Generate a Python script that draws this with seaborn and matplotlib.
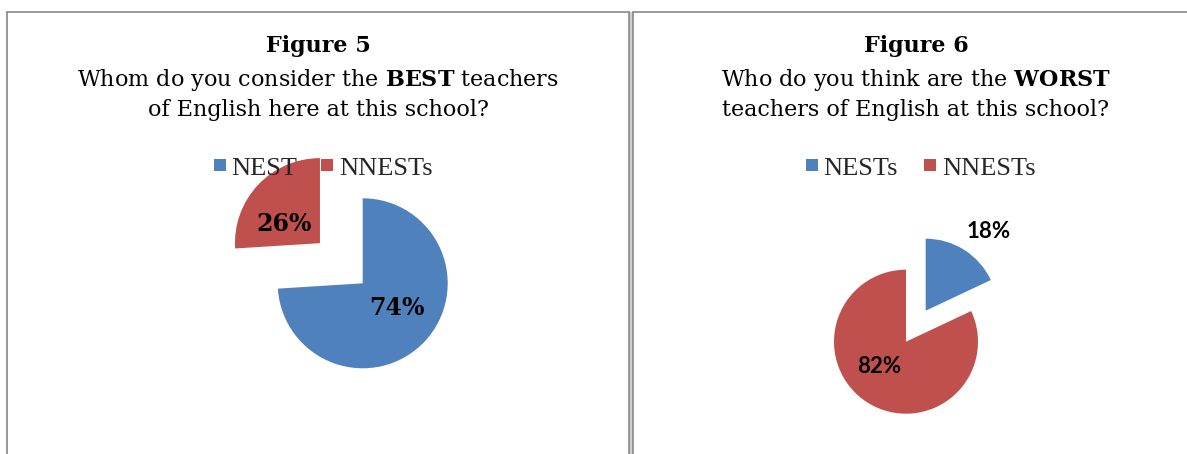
import matplotlib
matplotlib.use("Agg")
import matplotlib.pyplot as plt
from matplotlib.lines import Line2D
from matplotlib.patches import Rectangle
import seaborn as sns

# Survey results (percent of respondents)
best_labels = ["NEST", "NNESTs"]
best_values = [74, 26]
worst_labels = ["NESTs", "NNESTs"]
worst_values = [18, 82]

sns.set_theme(style="white")
plt.rcParams["font.family"] = ["DejaVu Serif"]
plt.rcParams["mathtext.fontset"] = "custom"
plt.rcParams["mathtext.rm"] = "DejaVu Serif"
plt.rcParams["mathtext.bf"] = "DejaVu Serif:bold"

colors = sns.color_palette(["#4F81BD", "#C0504D"])

W, H = 1187, 454
fig = plt.figure(figsize=(W / 100, H / 100), dpi=100)
fig.patch.set_facecolor("white")


def fx(x):
    return x / W


def fy(y):
    return 1 - y / H


def pie_axes(cx, cy, r, half=220):
    ax = fig.add_axes([fx(cx - half), fy(cy + half), 2 * half / W, 2 * half / H])
    return ax, half / r


def draw_pie(ax, lim, values, explode, label_pos, label_font):
    wedges, _ = ax.pie(values, colors=colors, startangle=90, counterclock=False,
                       explode=explode, wedgeprops=dict(linewidth=0))
    ax.set_xlim(-lim, lim)
    ax.set_ylim(-lim, lim)
    ax.axis("off")
    for v, (x, y) in zip(values, label_pos):
        ax.text(x, y, f"{v}%", ha="center", va="center", **label_font)
    return wedges


# Left chart: best teachers
ax1, lim1 = pie_axes(362.7, 283.3, 85)
draw_pie(ax1, lim1, best_values, [0, 0.69],
         [(0.40, -0.29), (-0.93, 0.70)],
         dict(fontsize=17, fontweight="bold", family="DejaVu Serif", color="black"))

# Right chart: worst teachers
ax2, lim2 = pie_axes(906, 341.7, 72)
draw_pie(ax2, lim2, worst_values, [0.51, 0],
         [(1.15, 1.53), (-0.37, -0.34)],
         dict(fontsize=16, fontweight="bold", family="Lato", color="black"))

# Titles
title_kw = dict(ha="center", va="baseline", fontsize=16, color="black")
fig.text(fx(318), fy(52), "Figure 5", fontweight="bold", **title_kw)
fig.text(fx(318), fy(86), r"Whom do you consider the $\mathbf{BEST}$ teachers", **title_kw)
fig.text(fx(318), fy(116), "of English here at this school?", **title_kw)
fig.text(fx(916), fy(52), "Figure 6", fontweight="bold", **title_kw)
fig.text(fx(916), fy(86), r"Who do you think are the $\mathbf{WORST}$", **title_kw)
fig.text(fx(916), fy(116), "teachers of English at this school?", **title_kw)


def legend(labels, x, y, colspace):
    handles = [Line2D([], [], marker="s", linestyle="none", markersize=9,
                      markerfacecolor=c, markeredgewidth=0) for c in colors]
    fig.legend(handles, labels, loc="center", bbox_to_anchor=(fx(x), fy(y)),
               ncol=2, frameon=False, handlelength=0.48,
               handletextpad=0.2, columnspacing=colspace, borderpad=0,
               prop=dict(family="Liberation Serif", size=19))


legend(best_labels, 323, 168, 0.9)
legend(worst_labels, 920.5, 168, 1.0)

# Panel borders
gray = "#878787"
border = dict(color=gray, linewidth=1.2, transform=fig.transFigure)
fig.add_artist(Line2D([fx(7), fx(7)], [fy(12), 0], **border))
fig.add_artist(Line2D([fx(7), fx(628.5)], [fy(12), fy(12)], **border))
fig.add_artist(Rectangle((fx(628.5), 0), fx(4.5), fy(12), transform=fig.transFigure,
                         facecolor="#cfcfcf", edgecolor="none"))
fig.add_artist(Line2D([fx(628.5), fx(628.5)], [fy(12), 0], **border))
fig.add_artist(Line2D([fx(633), fx(633)], [fy(12), 0], **border))
fig.add_artist(Line2D([fx(633), 1], [fy(12), fy(12)], **border))

fig.savefig("out.png", dpi=100, facecolor="white")
